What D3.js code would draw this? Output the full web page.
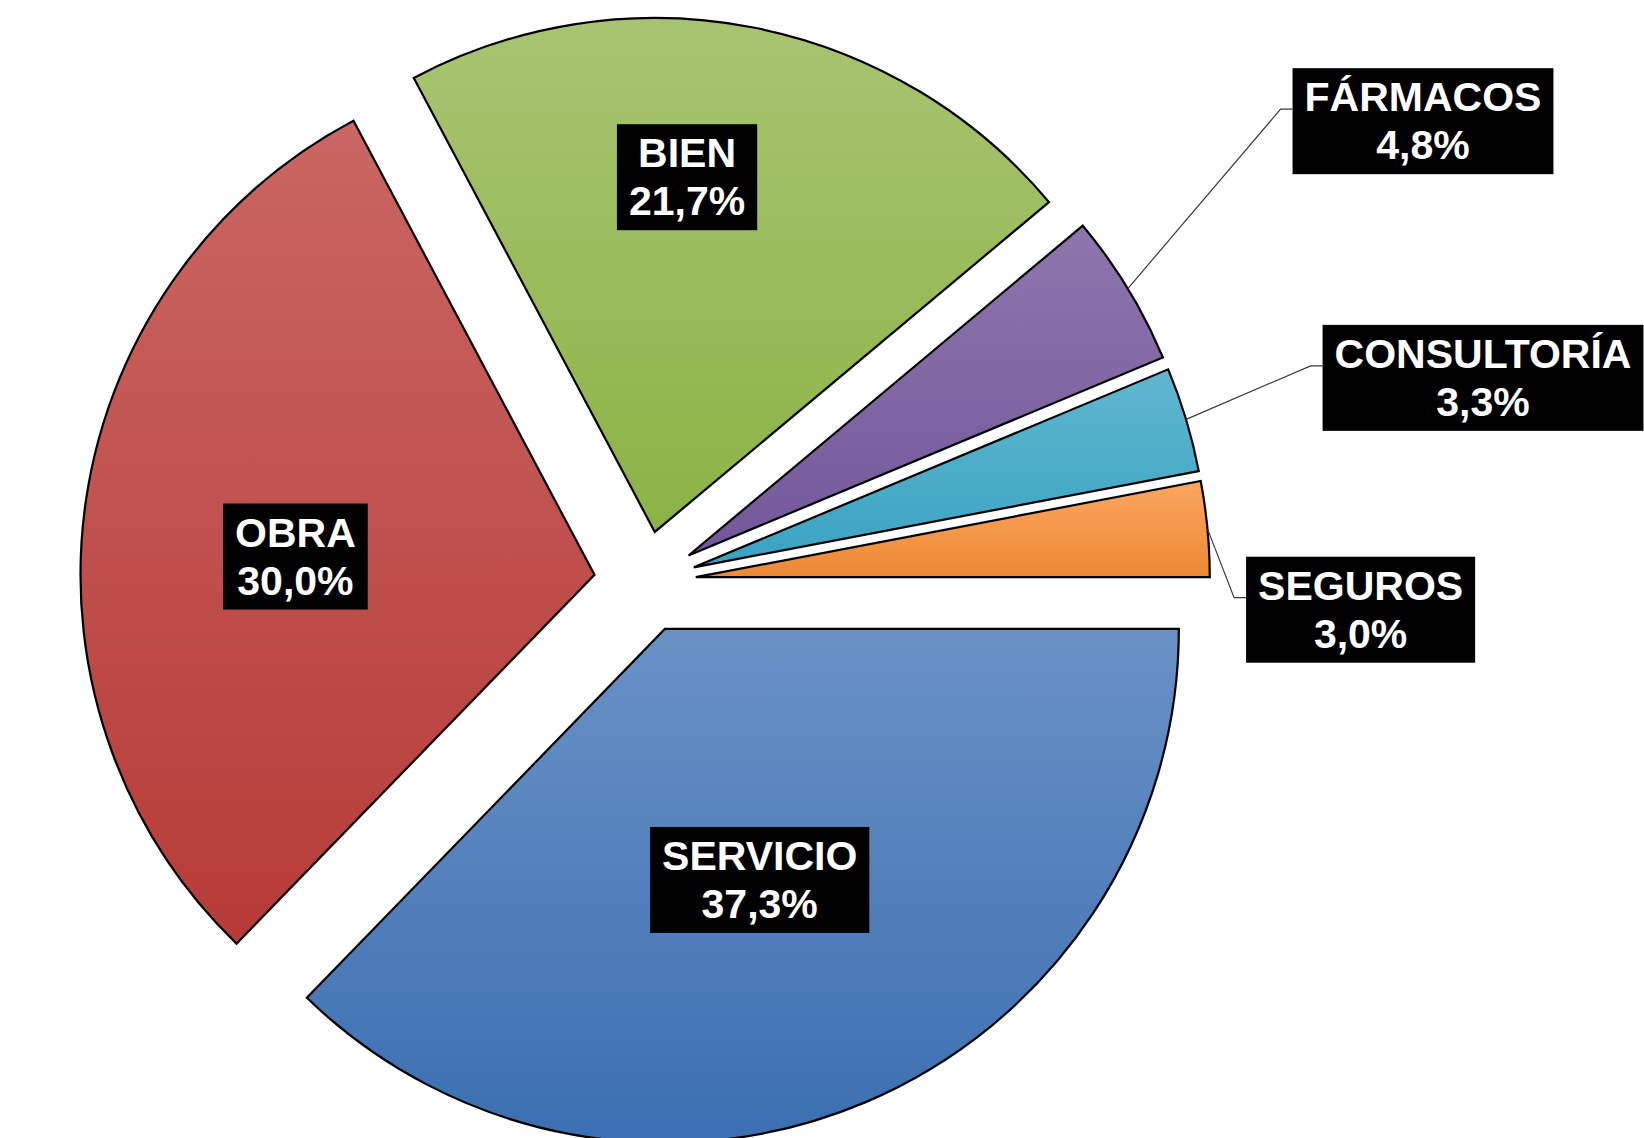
<!DOCTYPE html>
<html>
<head>
<meta charset="utf-8">
<script src="https://cdn.jsdelivr.net/npm/d3@7"></script>
<style>
  html, body { margin: 0; padding: 0; background: #fff; overflow: hidden; }
  svg { display: block; }
</style>
</head>
<body>
<div id="chart"></div>
<script>
// data
var categories = ["SERVICIO", "OBRA", "BIEN", "FÁRMACOS", "CONSULTORÍA", "SEGUROS"];
var shares = [37.3, 30.0, 21.7, 4.8, 3.3, 3.0];
var topColors = ["#6a91c6", "#ca6663", "#a8c472", "#8e76ad", "#5fb7cf", "#fba660"];
var bottomColors = ["#3b6fb1", "#b63b38", "#8cb345", "#73579a", "#39a3c1", "#ec8933"];

// label placement: angle (deg) and radius factor, measured from each exploded slice
var labelAngle = [159.3, 273.5, 5.2, 59.4, 76.5, 92.8];
var labelDist = [0.522, 0.583, 0.693, 1.660, 1.579, 1.295];

var width = 1644, height = 1138;
var cx = 645, cy = 582, radius = 514, explode = 51;

var esLocale = d3.formatLocale({ decimal: ",", thousands: ".", grouping: [3], currency: ["", "€"] });
var pct = esLocale.format(".1f");

var svg = d3.select("#chart").append("svg")
    .attr("width", width)
    .attr("height", height);

var defs = svg.append("defs");
categories.forEach(function(c, i) {
  var g = defs.append("linearGradient")
      .attr("id", "grad" + i)
      .attr("x1", 0).attr("y1", 0).attr("x2", 0).attr("y2", 1);
  g.append("stop").attr("offset", "0%").attr("stop-color", topColors[i]);
  g.append("stop").attr("offset", "100%").attr("stop-color", bottomColors[i]);
});

var pie = d3.pie()
    .sort(null)
    .startAngle(Math.PI / 2)
    .endAngle(Math.PI / 2 + 2 * Math.PI)
    .value(function(d) { return d; });

var arcs = pie(shares);

var arc = d3.arc().innerRadius(0).outerRadius(radius);

var root = svg.append("g")
    .attr("transform", "translate(" + cx + "," + cy + ")");

// offset of each exploded slice
function sliceOrigin(d) {
  var mid = (d.startAngle + d.endAngle) / 2;
  return d3.pointRadial(mid, explode);
}

root.selectAll(".slice")
    .data(arcs)
    .enter().append("path")
    .attr("class", "slice")
    .attr("transform", function(d) {
      var o = sliceOrigin(d);
      return "translate(" + o[0] + "," + o[1] + ")";
    })
    .attr("d", arc)
    .attr("fill", function(d, i) { return "url(#grad" + i + ")"; })
    .attr("stroke", "#000")
    .attr("stroke-width", 2.2)
    .attr("stroke-linejoin", "miter");

// labels
var labels = root.selectAll(".lab")
    .data(arcs)
    .enter().append("g")
    .attr("class", "lab");

labels.each(function(d, i) {
  var g = d3.select(this);
  var o = sliceOrigin(d);
  var p = d3.pointRadial(labelAngle[i] * Math.PI / 180, labelDist[i] * radius);
  var lx = o[0] + p[0], ly = o[1] + p[1];

  var rect = g.append("rect").attr("fill", "#000");
  var text = g.append("text")
      .attr("text-anchor", "middle")
      .attr("fill", "#fff")
      .style("font-family", "'Liberation Sans', Arial, sans-serif")
      .style("font-weight", "bold")
      .style("font-size", "41px");
  var t1 = text.append("tspan").attr("x", lx).attr("y", ly - 10).text(categories[i]);
  var t2 = text.append("tspan").attr("x", lx).attr("y", ly + 38).text(pct(shares[i]) + "%");

  var tw = Math.max(t1.node().getComputedTextLength(), t2.node().getComputedTextLength());
  var bw = tw + 24, bh = 106;
  rect.attr("x", lx - bw / 2).attr("y", ly - bh / 2)
      .attr("width", bw).attr("height", bh);

  // leader line for labels outside the pie
  if (labelDist[i] > 1) {
    var mid = (d.startAngle + d.endAngle) / 2;
    var a = d3.pointRadial(mid, radius);
    var start = [o[0] + a[0], o[1] + a[1]];
    var left = lx - bw / 2;
    var yy = ly - 12;
    g.insert("path", "rect")
        .attr("d", d3.line()([start, [left - 12, yy], [left, yy]]))
        .attr("fill", "none")
        .attr("stroke", "#3a3a3a")
        .attr("stroke-width", 1.2);
  }
});
</script>
</body>
</html>
